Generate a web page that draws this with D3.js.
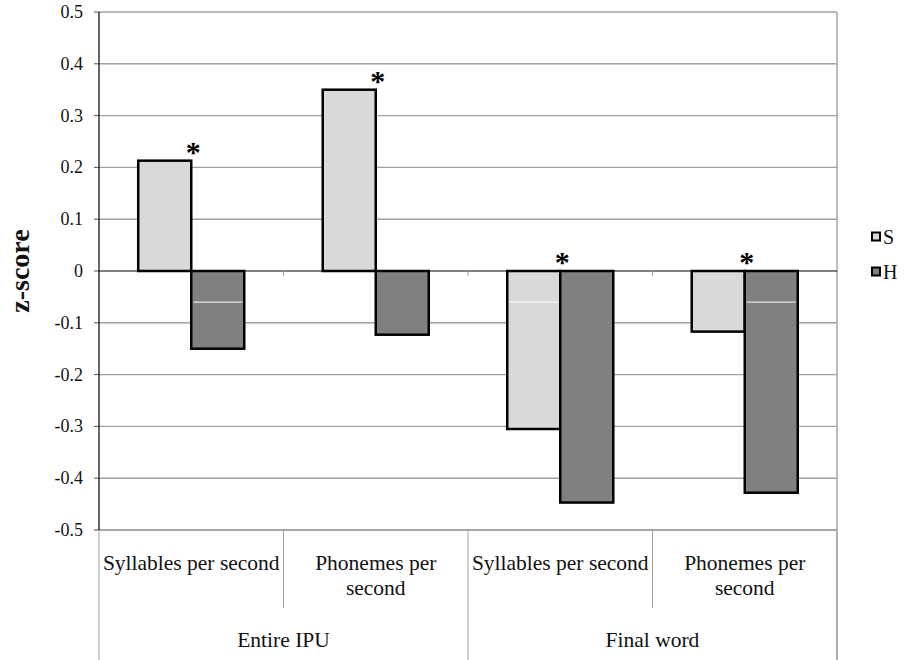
<!DOCTYPE html>
<html>
<head>
<meta charset="utf-8">
<script src="https://cdn.jsdelivr.net/npm/d3@7"></script>
<style>
  body { margin: 0; background: #fff; }
  svg { display: block; }
</style>
</head>
<body>
<script>
// Data
const CATEGORIES = ["Syllables per second", "Phonemes per second", "Syllables per second", "Phonemes per second"];
const GROUPS     = ["Entire IPU", "Final word"];
const GROUP_OF   = [0, 0, 1, 1];
const SERIES     = ["S", "H"];
const S_VALUES   = [0.213, 0.35, -0.305, -0.117];
const H_VALUES   = [-0.15, -0.123, -0.447, -0.428];
const STARRED    = [true, true, true, true];
// white seam line visible inside some bars of the original
const SEAM       = [[false, true], [false, false], [true, false], [false, true]];

// Dimensions
const W = 904, H = 660;
const PLOT = { left: 99, right: 837, top: 12, bottom: 530 };

// Colors
const FILL = { S: "#d9d9d9", H: "#808080" };
const GRID = "#a0a0a0";
const FONT = "Liberation Serif";

// Scales
const x0 = d3.scaleBand()
  .domain(d3.range(CATEGORIES.length))
  .range([PLOT.left, PLOT.right])
  .paddingInner(0)
  .paddingOuter(0);

const x1 = d3.scaleBand()
  .domain(SERIES)
  .range([0, x0.bandwidth()])
  .paddingInner(0)
  .paddingOuter(0.74);

const y = d3.scaleLinear()
  .domain([-0.5, 0.5])
  .range([PLOT.bottom, PLOT.top]);

const svg = d3.select("body").append("svg")
  .attr("width", W)
  .attr("height", H);

svg.append("rect").attr("width", W).attr("height", H).attr("fill", "#fff");

// Gridlines
const ticks = y.ticks(10);
svg.append("g").selectAll("line")
  .data(ticks.filter(d => Math.abs(d) > 1e-9))
  .join("line")
  .attr("x1", PLOT.left).attr("x2", PLOT.right)
  .attr("y1", d => y(d)).attr("y2", d => y(d))
  .attr("stroke", GRID)
  .attr("stroke-width", 1.4);

// Right border
svg.append("line")
  .attr("x1", PLOT.right).attr("x2", PLOT.right)
  .attr("y1", PLOT.top).attr("y2", H)
  .attr("stroke", GRID).attr("stroke-width", 1.4);

// Y tick marks + labels
const fmt = d => Math.abs(d) < 1e-9 ? "0" : d3.format(".1f")(d).replace("\u2212", "-");
const yt = svg.append("g");
yt.selectAll("line")
  .data(ticks)
  .join("line")
  .attr("x1", PLOT.left - 5).attr("x2", PLOT.left)
  .attr("y1", d => y(d)).attr("y2", d => y(d))
  .attr("stroke", "#555").attr("stroke-width", 1);
yt.selectAll("text")
  .data(ticks)
  .join("text")
  .attr("x", 83)
  .attr("y", d => y(d) + 6)
  .attr("text-anchor", "end")
  .attr("font-family", FONT)
  .attr("font-size", 18)
  .attr("fill", "#111")
  .text(fmt);

// Category axis lines
const ax = svg.append("g").attr("stroke", GRID).attr("stroke-width", 1);
ax.append("line")
  .attr("x1", PLOT.left - 5).attr("x2", PLOT.right)
  .attr("y1", PLOT.bottom).attr("y2", PLOT.bottom)
  .attr("stroke-width", 1.6);
d3.range(CATEGORIES.length + 1).forEach(i => {
  const xx = i < CATEGORIES.length ? x0(i) : PLOT.right;
  const groupEdge = i === 0 || i === CATEGORIES.length || GROUP_OF[i] !== GROUP_OF[i - 1];
  ax.append("line")
    .attr("x1", xx).attr("x2", xx)
    .attr("y1", PLOT.bottom).attr("y2", groupEdge ? H : 608);
});

// Bars
const rows = CATEGORIES.map((c, i) => ({ i, values: [
  { key: "S", v: S_VALUES[i], seam: SEAM[i][0] },
  { key: "H", v: H_VALUES[i], seam: SEAM[i][1] }
]}));

const cat = svg.append("g").selectAll("g")
  .data(rows)
  .join("g")
  .attr("transform", d => `translate(${x0(d.i)},0)`);

cat.selectAll("rect")
  .data(d => d.values)
  .join("rect")
  .attr("x", d => x1(d.key))
  .attr("y", d => y(Math.max(0, d.v)))
  .attr("width", x1.bandwidth())
  .attr("height", d => Math.abs(y(d.v) - y(0)))
  .attr("fill", d => FILL[d.key])
  .attr("stroke", "#000")
  .attr("stroke-width", 2.5);

cat.selectAll("line.seam")
  .data(d => d.values.filter(v => v.seam && v.v < -0.06))
  .join("line")
  .attr("class", "seam")
  .attr("x1", d => x1(d.key) + 2).attr("x2", d => x1(d.key) + x1.bandwidth() - 2)
  .attr("y1", y(-0.06)).attr("y2", y(-0.06))
  .attr("stroke", "#fff").attr("stroke-width", 1);

// Zero line + axis
svg.append("line")
  .attr("x1", PLOT.left).attr("x2", PLOT.right)
  .attr("y1", y(0)).attr("y2", y(0))
  .attr("stroke", "#000").attr("stroke-width", 1.2);
d3.range(1, CATEGORIES.length).forEach(i => {
  svg.append("line")
    .attr("x1", x0(i)).attr("x2", x0(i))
    .attr("y1", y(0)).attr("y2", y(0) + 5)
    .attr("stroke", GRID);
});
svg.append("line")
  .attr("x1", PLOT.left).attr("x2", PLOT.left)
  .attr("y1", PLOT.top).attr("y2", PLOT.bottom)
  .attr("stroke", "#000").attr("stroke-width", 1.2);

// Asterisks
rows.forEach(d => {
  if (!STARRED[d.i]) return;
  const top = y(Math.max(0, S_VALUES[d.i], H_VALUES[d.i]));
  svg.append("text")
    .attr("x", x0(d.i) + x1("H") + 2)
    .attr("y", top - 14 + 15)
    .attr("text-anchor", "middle")
    .attr("font-family", FONT)
    .attr("font-size", 30)
    .attr("font-weight", "bold")
    .attr("fill", "#000")
    .text("*");
});

// Category labels (wrapped like the original)
const lab = svg.append("g");
function label(x, yy, t) {
  return lab.append("text")
    .attr("x", x).attr("y", yy)
    .attr("text-anchor", "middle")
    .attr("font-family", FONT)
    .attr("font-size", 21.5)
    .attr("fill", "#111")
    .text(t);
}
CATEGORIES.forEach((c, i) => {
  const cx = x0(i) + x0.bandwidth() / 2;
  const probe = label(cx, 570, c);
  const wide = probe.node().getComputedTextLength() > x0.bandwidth() - 3;
  probe.remove();
  let lines = [c];
  if (wide) {
    const words = c.split(" ");
    lines = [words.slice(0, -1).join(" "), words[words.length - 1]];
  }
  lines.forEach((ln, k) => label(cx, 570 + k * 25, ln));
});

GROUPS.forEach((g, gi) => {
  const idx = d3.range(CATEGORIES.length).filter(i => GROUP_OF[i] === gi);
  const a = x0(idx[0]), b = x0(idx[idx.length - 1]) + x0.bandwidth();
  label((a + b) / 2, 647, g);
});

// Y title
svg.append("text")
  .attr("transform", `translate(29,${y(0)}) rotate(-90)`)
  .attr("text-anchor", "middle")
  .attr("font-family", FONT)
  .attr("font-size", 28)
  .attr("font-weight", "bold")
  .attr("fill", "#111")
  .text("z-score");

// Legend
const leg = svg.append("g");
SERIES.forEach((s, k) => {
  const cy = 237 + k * 35;
  leg.append("rect")
    .attr("x", 872).attr("y", cy - 4.5)
    .attr("width", 8).attr("height", 8)
    .attr("fill", FILL[s])
    .attr("stroke", "#000")
    .attr("stroke-width", 2);
  leg.append("text")
    .attr("x", 883)
    .attr("y", cy + 7)
    .attr("font-family", FONT)
    .attr("font-size", 20)
    .attr("fill", "#111")
    .text(s);
});
</script>
</body>
</html>
